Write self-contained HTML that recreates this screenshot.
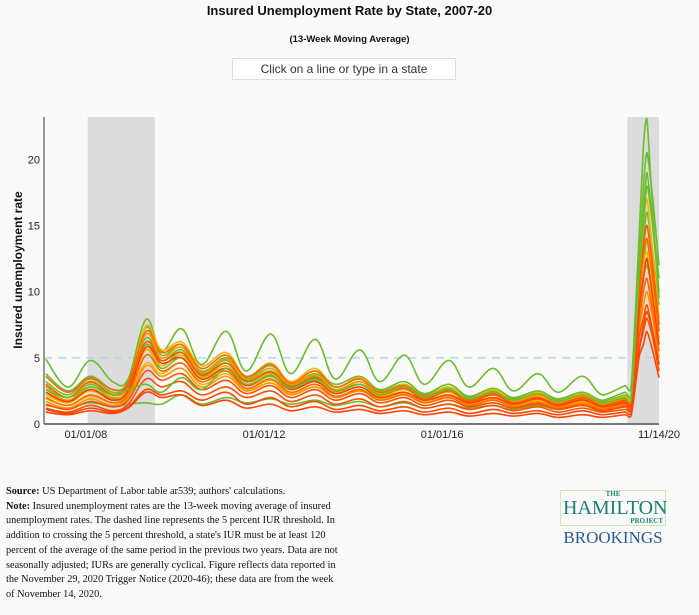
<!DOCTYPE html>
<html><head><meta charset="utf-8"><style>
body{margin:0;background:#fafafa;width:699px;height:615px;overflow:hidden;font-family:"Liberation Sans",sans-serif;position:relative}
#title{position:absolute;top:3px;left:0;width:699px;text-align:center;font-weight:bold;font-size:13px;color:#111}
#sub{position:absolute;top:34px;left:0;width:699px;text-align:center;font-weight:bold;font-size:9.5px;color:#111}
#search{position:absolute;left:232px;top:58px;width:222px;height:20px;border:1px solid #ddd;background:#fff;font-size:12px;color:#333;text-align:center;line-height:20px}
#notes{position:absolute;left:6px;top:485px;width:332px;font-family:"Liberation Serif",serif;font-size:10.3px;line-height:14.7px;color:#111}
#logo{position:absolute;left:560px;top:490px;width:106px;text-align:center;font-family:"Liberation Serif",serif}
</style></head><body>
<div id="title">Insured Unemployment Rate by State, 2007-20</div>
<div id="sub">(13-Week Moving Average)</div>
<div id="search">Click on a line or type in a state</div>
<svg id="chart" width="699" height="470" style="position:absolute;left:0;top:0"></svg>
<div id="notes"><b>Source:</b> US Department of Labor table ar539; authors' calculations.<br><b>Note:</b> Insured unemployment rates are the 13-week moving average of insured unemployment rates. The dashed line represents the 5 percent IUR threshold. In addition to crossing the 5 percent threshold, a state's IUR must be at least 120 percent of the average of the same period in the previous two years. Data are not seasonally adjusted; IURs are generally cyclical. Figure reflects data reported in the November 29, 2020 Trigger Notice (2020-46); these data are from the week of November 14, 2020.</div>
<div id="logo">
<div style="border:1px solid #cfe6b8;padding:0 2px;color:#1a7f78;line-height:1"><div style="font-size:7px;font-weight:bold">THE</div><div style="font-size:20px">HAMILTON</div><div style="font-size:7px;font-weight:bold;text-align:right">PROJECT</div></div>
<div style="color:#2a5a96;font-size:17px;margin-top:2px">BROOKINGS</div></div>
<script>
const dates=[2007.1,2007.6,2008.1,2008.6,2008.95,2009.35,2009.7,2010.15,2010.6,2011.15,2011.6,2012.15,2012.6,2013.15,2013.6,2014.15,2014.6,2015.15,2015.6,2016.15,2016.6,2017.15,2017.6,2018.15,2018.6,2019.15,2019.6,2020.1,2020.25,2020.42,2020.52,2020.6,2020.73,2020.87];
const colors=["#6cbd2c","#6cbd2c","#6cbd2c","#6cbd2c","#6cbd2c","#6cbd2c","#f7b500","#f7b500","#f7b500","#ff9500","#ff9500","#ff6a00","#ff6a00","#ff5000","#ff5000","#ff4500","#ff4500","#ff4000","#ff5a00","#6cbd2c"];
const s0=[4.9,2.8,4.8,3.2,3.4,7.9,5.5,7.2,4.5,7.0,4.0,6.8,3.8,6.4,3.4,5.6,3.2,5.2,3.0,4.8,2.8,4.2,2.5,3.8,2.4,3.6,2.2,2.9,3.0,14,21,23,16,9.5];
const s1=[3.8,2.5,3.6,2.6,3.2,7.3,5.2,6.0,4.0,5.0,3.5,4.4,3.2,4.0,3.0,3.6,2.6,3.2,2.3,3.0,2.1,2.7,2.0,2.5,1.9,2.4,1.8,2.4,2.4,12,18,20.5,17,12];
const s2=[3.2,2.2,3.4,2.4,3.0,6.5,4.8,5.6,3.8,4.8,3.3,4.2,3.0,3.8,2.8,3.4,2.5,3.0,2.2,2.8,2.0,2.6,1.9,2.4,1.8,2.3,1.7,2.2,2.2,11,16,19,15,10];
const s3=[2.8,2.0,3.0,2.2,2.8,6.0,4.4,5.4,3.6,4.6,3.2,4.0,2.9,3.6,2.6,3.2,2.4,2.9,2.1,2.7,1.9,2.5,1.8,2.3,1.7,2.2,1.6,2.0,2.0,10,14,16,13,9];
const s4=[2.4,1.6,2.6,1.9,2.6,5.6,4.2,5.0,3.4,4.2,3.0,3.7,2.7,3.3,2.4,3.0,2.2,2.6,2.0,2.4,1.8,2.2,1.7,2.1,1.6,2.0,1.5,1.9,1.9,9,12,14,11,7.5];
const s5=[1.4,1.2,1.6,1.3,1.5,1.6,1.5,2.2,1.5,2.0,1.6,1.9,1.5,1.8,1.4,1.7,1.3,1.6,1.2,1.5,1.2,1.4,1.1,1.4,1.1,1.4,1.0,1.3,1.3,8,11,12,10,7];
const s6=[2.9,2.0,3.1,2.3,2.9,7.4,5.6,6.2,4.4,5.4,3.6,4.6,3.2,4.2,2.8,3.5,2.4,3.0,2.1,2.8,1.9,2.6,1.8,2.4,1.7,2.3,1.6,2.1,2.1,10,15,17,13,8];
const s7=[2.2,1.6,2.5,1.8,2.4,5.6,4.4,5.2,3.5,4.4,3.0,3.8,2.7,3.4,2.4,3.0,2.1,2.6,1.9,2.4,1.7,2.2,1.6,2.1,1.5,2.0,1.4,1.8,1.8,9,12,13,10,6.5];
const s8=[1.9,1.4,2.1,1.6,2.2,4.6,3.8,4.6,3.0,3.8,2.6,3.3,2.3,3.0,2.1,2.6,1.9,2.3,1.7,2.1,1.6,1.9,1.4,1.8,1.3,1.7,1.2,1.6,1.6,7.5,10,11,9,5.5];
const s9=[2.6,1.8,2.8,2.0,2.7,6.8,5.0,5.8,3.9,4.9,3.4,4.2,3.0,3.7,2.6,3.2,2.3,2.8,2.0,2.6,1.8,2.4,1.7,2.2,1.6,2.1,1.5,1.9,1.9,9,13,14,11,7];
const s10=[1.7,1.2,1.9,1.4,2.0,4.4,3.6,4.2,2.8,3.6,2.5,3.1,2.2,2.8,2.0,2.5,1.8,2.2,1.6,2.0,1.5,1.8,1.4,1.7,1.3,1.6,1.2,1.5,1.5,7,9,10,8,5];
const s11=[3.6,2.4,3.5,2.6,3.1,7.0,5.4,6.0,4.2,5.2,3.6,4.5,3.1,4.0,2.8,3.4,2.4,2.9,2.1,2.6,1.8,2.3,1.6,2.0,1.5,1.9,1.4,1.7,1.7,9,13,14,11,7];
const s12=[2.0,1.4,2.2,1.6,2.2,5.2,4.0,4.6,3.2,4.0,2.7,3.4,2.4,3.0,2.1,2.6,1.8,2.2,1.6,2.0,1.4,1.8,1.3,1.6,1.2,1.5,1.1,1.4,1.4,7.5,10,11,8.5,5.5];
const s13=[1.5,1.1,1.7,1.3,1.8,4.0,3.3,3.8,2.6,3.3,2.3,2.9,2.0,2.6,1.8,2.3,1.6,2.0,1.4,1.8,1.3,1.6,1.2,1.5,1.1,1.4,1.0,1.3,1.3,6.5,8,9,7,4.5];
const s14=[1.2,0.9,1.4,1.0,1.5,3.4,2.8,3.2,2.2,2.8,2.0,2.5,1.7,2.2,1.5,1.9,1.3,1.7,1.2,1.5,1.1,1.4,1.0,1.3,0.9,1.2,0.9,1.1,1.1,5.5,7,8,6.5,4];
const s15=[0.9,0.7,1.0,0.8,1.2,2.4,2.0,2.2,1.4,1.8,1.2,1.5,1.0,1.3,0.9,1.1,0.8,1.0,0.7,0.9,0.6,0.8,0.6,0.8,0.5,0.7,0.5,0.7,0.7,5,6,7,5.5,3.5];
const s16=[1.1,0.8,1.2,0.9,1.3,2.6,2.2,2.5,1.8,2.4,1.5,2.0,1.3,1.7,1.1,1.4,1.0,1.3,0.9,1.2,0.8,1.1,0.8,1.0,0.7,1.0,0.7,0.9,0.9,5.5,7.5,8.5,7,4.5];
const s17=[2.4,1.7,2.6,1.8,2.5,5.8,4.6,5.0,3.4,4.2,2.9,3.6,2.6,3.2,2.3,2.8,2.0,2.4,1.8,2.2,1.6,2.0,1.5,1.9,1.4,1.8,1.3,1.6,1.6,8.5,11,12.5,9.5,6];
const s18=[3.0,2.0,3.2,2.2,2.9,6.2,4.8,5.4,3.7,4.6,3.2,3.9,2.8,3.5,2.5,3.0,2.2,2.7,1.9,2.5,1.7,2.2,1.6,2.0,1.5,2.0,1.4,1.8,1.8,10,13.5,15,12,7.5];
const s19=[2.6,2.0,2.8,2.2,2.6,3.0,2.4,3.5,2.6,4.2,3.0,3.6,2.7,3.4,2.5,3.0,2.2,2.8,2.0,2.6,1.9,2.4,1.8,2.3,1.7,2.2,1.6,2.0,2.0,11,15,18,15,11];
const series=[s0,s1,s2,s3,s4,s5,s6,s7,s8,s9,s10,s11,s12,s13,s14,s15,s16,s17,s18,s19];
const yTicks=[0,5,10,15,20];
const xTickDates=[2008.0,2012.0,2016.0,2020.87];
const xTickLabels=["01/01/08","01/01/12","01/01/16","11/14/20"];
const recessions=[[2008.04,2009.55],[2020.16,2020.87]];
const threshold=5;

const NS="http://www.w3.org/2000/svg";
const svg=document.getElementById('chart');
const X0=44,X1=659,Y0=424,Y1=117,D0=2007.06,D1=2020.87,V1=23.2;
const x=d=>X0+(d-D0)/(D1-D0)*(X1-X0);
const y=v=>Y0-v/V1*(Y0-Y1);
function el(t,a){const e=document.createElementNS(NS,t);for(const k in a)e.setAttribute(k,a[k]);svg.appendChild(e);return e;}
recessions.forEach(r=>{
 const e=el('rect',{x:x(r[0]),y:Y1,width:x(r[1])-x(r[0]),height:Y0-Y1,fill:'#dcdcdc'});
 
 
});
const th=el('line',{x1:X0,x2:X1,y1:y(threshold),y2:y(threshold),stroke:'#a8d8ee','stroke-dasharray':'8,6','stroke-width':1.3});


function path(vals){
 const p=vals.map((v,i)=>[x(dates[i]),y(v)]);
 let d='M'+p[0][0]+','+p[0][1];
 for(let i=0;i<p.length-1;i++){
  const a=p[Math.max(0,i-1)],b=p[i],c=p[i+1],e=p[Math.min(p.length-1,i+2)];
  const t=i>=26?0.1:0.18;
  d+=` C${b[0]+(c[0]-a[0])*t},${b[1]+(c[1]-a[1])*t} ${c[0]-(e[0]-b[0])*t},${c[1]-(e[1]-b[1])*t} ${c[0]},${c[1]}`;
 }
 return d;
}
series.forEach((s,i)=>{
 const e=el('path',{d:path(s),fill:'none',stroke:colors[i],'stroke-width':1.6});
 
 
});
const ya=el('line',{x1:X0,x2:X0,y1:Y1,y2:Y0,stroke:'#777','stroke-width':1.5});


const xa=el('line',{x1:X0,x2:X1,y1:Y0,y2:Y0,stroke:'#777','stroke-width':2});


yTicks.forEach(v=>{
 const t=el('text',{x:X0-4,y:y(v)+4,'text-anchor':'end','font-size':11,fill:'#222','font-family':'Liberation Sans'});
 t.textContent=v;
 
 
});
xTickDates.forEach((d,i)=>{
 const t=el('text',{x:x(d),y:Y0+14,'text-anchor':'middle','font-size':11,fill:'#222','font-family':'Liberation Sans'});
 t.textContent=xTickLabels[i];
 
 
});
const yt=el('text',{transform:'translate(22,270) rotate(-90)','text-anchor':'middle','font-size':12,'font-weight':'bold',fill:'#111','font-family':'Liberation Sans'});
yt.textContent='Insured unemployment rate';


</script>
</body></html>
